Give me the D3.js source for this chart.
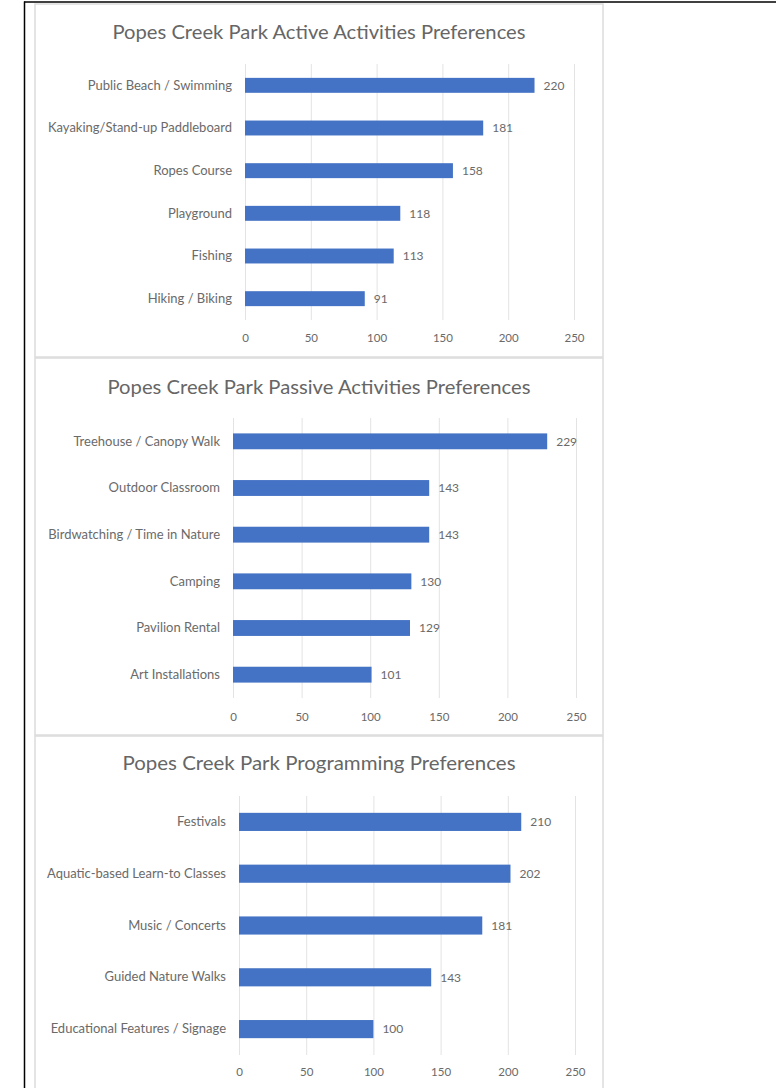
<!DOCTYPE html>
<html>
<head>
<meta charset="utf-8">
<script src="https://cdn.jsdelivr.net/npm/d3@7"></script>
<style>
  html, body { margin: 0; padding: 0; background: #ffffff; }
  svg { display: block; }
  text { font-family: Lato, "Open Sans", sans-serif; }
</style>
</head>
<body>
<svg id="chart" width="779" height="1088"></svg>
<script>
// ---- Data ----
const tickValues = [0, 50, 100, 150, 200, 250];

const activeTitle = "Popes Creek Park Active Activities Preferences";
const activeCategories = ["Public Beach / Swimming", "Kayaking/Stand-up Paddleboard", "Ropes Course", "Playground", "Fishing", "Hiking / Biking"];
const activeValues = [220, 181, 158, 118, 113, 91];

const passiveTitle = "Popes Creek Park Passive Activities Preferences";
const passiveCategories = ["Treehouse / Canopy Walk", "Outdoor Classroom", "Birdwatching / Time in Nature", "Camping", "Pavilion Rental", "Art Installations"];
const passiveValues = [229, 143, 143, 130, 129, 101];

const programTitle = "Popes Creek Park Programming Preferences";
const programCategories = ["Festivals", "Aquatic-based Learn-to Classes", "Music / Concerts", "Guided Nature Walks", "Educational Features / Signage"];
const programValues = [210, 202, 181, 143, 100];

// ---- Drawing ----
const svg = d3.select("#chart");
const BAR = "#4472C4";
const TEXT = "#6a6a6a";
const GRID = "#e3e3e3";

// outer frame (left and top only)
svg.append("line").attr("x1", 24.5).attr("x2", 24.5).attr("y1", 1.5).attr("y2", 1088)
  .attr("stroke", "#000").attr("stroke-width", 1.5);
svg.append("line").attr("x1", 24).attr("x2", 776).attr("y1", 2).attr("y2", 2)
  .attr("stroke", "#000").attr("stroke-width", 1.5);

function drawPanel(cfg, title, cats, vals) {
  const g = svg.append("g");
  // panel background
  g.append("rect")
    .attr("x", 35).attr("y", cfg.panelTop)
    .attr("width", 568).attr("height", cfg.panelBottom - cfg.panelTop)
    .attr("fill", "#fff").attr("stroke", "#dcdcdc").attr("stroke-width", 1.5);

  const x = d3.scaleLinear().domain([0, 250]).range([cfg.x0, cfg.x1]);
  const y = d3.scaleBand().domain(cats).range([cfg.yTop, cfg.yBottom]).paddingInner(cfg.pad).paddingOuter(cfg.pad / 2);

  // gridlines
  g.selectAll(".grid").data(tickValues).enter().append("line")
    .attr("x1", d => x(d) + 0.5).attr("x2", d => x(d) + 0.5)
    .attr("y1", cfg.yTop).attr("y2", cfg.yBottom)
    .attr("stroke", GRID).attr("stroke-width", 1);

  // x axis tick labels
  const xAxis = d3.axisBottom(x).tickValues(tickValues).tickSize(0).tickPadding(0);
  const ax = g.append("g").attr("transform", `translate(0,${cfg.tickY})`).call(xAxis);
  ax.select(".domain").remove();
  ax.selectAll("text").attr("fill", TEXT).attr("font-size", 11.5).attr("dy", "0.35em");

  // y axis labels
  const yAxis = d3.axisLeft(y).tickSize(0).tickPadding(0);
  const ay = g.append("g").attr("transform", `translate(${cfg.labelX},0)`).call(yAxis);
  ay.select(".domain").remove();
  ay.selectAll("text").attr("fill", TEXT).attr("font-size", 13);

  // bars
  g.selectAll(".bar").data(cats).enter().append("rect")
    .attr("x", x(0)).attr("y", d => y(d))
    .attr("width", (d, i) => x(vals[i]) - x(0))
    .attr("height", y.bandwidth())
    .attr("fill", BAR);

  // value labels
  g.selectAll(".val").data(cats).enter().append("text")
    .attr("x", (d, i) => x(vals[i]) + 9)
    .attr("y", d => y(d) + y.bandwidth() / 2)
    .attr("dy", "0.35em")
    .attr("fill", TEXT).attr("font-size", 12)
    .text((d, i) => vals[i]);

  // title
  g.append("text")
    .attr("x", 319).attr("y", cfg.titleY).attr("dy", "0.35em")
    .attr("text-anchor", "middle")
    .attr("fill", "#666").attr("font-size", 19)
    .attr("textLength", cfg.titleW).attr("lengthAdjust", "spacingAndGlyphs")
    .text(title);
}

drawPanel({panelTop: 4, panelBottom: 357, x0: 245, x1: 574, yTop: 64, yBottom: 320, pad: 0.65,
  tickY: 338, labelX: 232, titleY: 32, titleW: 413}, activeTitle, activeCategories, activeValues);

drawPanel({panelTop: 358, panelBottom: 735, x0: 233, x1: 576, yTop: 418, yBottom: 698, pad: 0.66,
  tickY: 717, labelX: 220, titleY: 387, titleW: 423}, passiveTitle, passiveCategories, passiveValues);

drawPanel({panelTop: 736, panelBottom: 1090, x0: 239, x1: 575, yTop: 796, yBottom: 1055, pad: 0.65,
  tickY: 1072, labelX: 226, titleY: 763, titleW: 393}, programTitle, programCategories, programValues);
</script>
</body>
</html>
